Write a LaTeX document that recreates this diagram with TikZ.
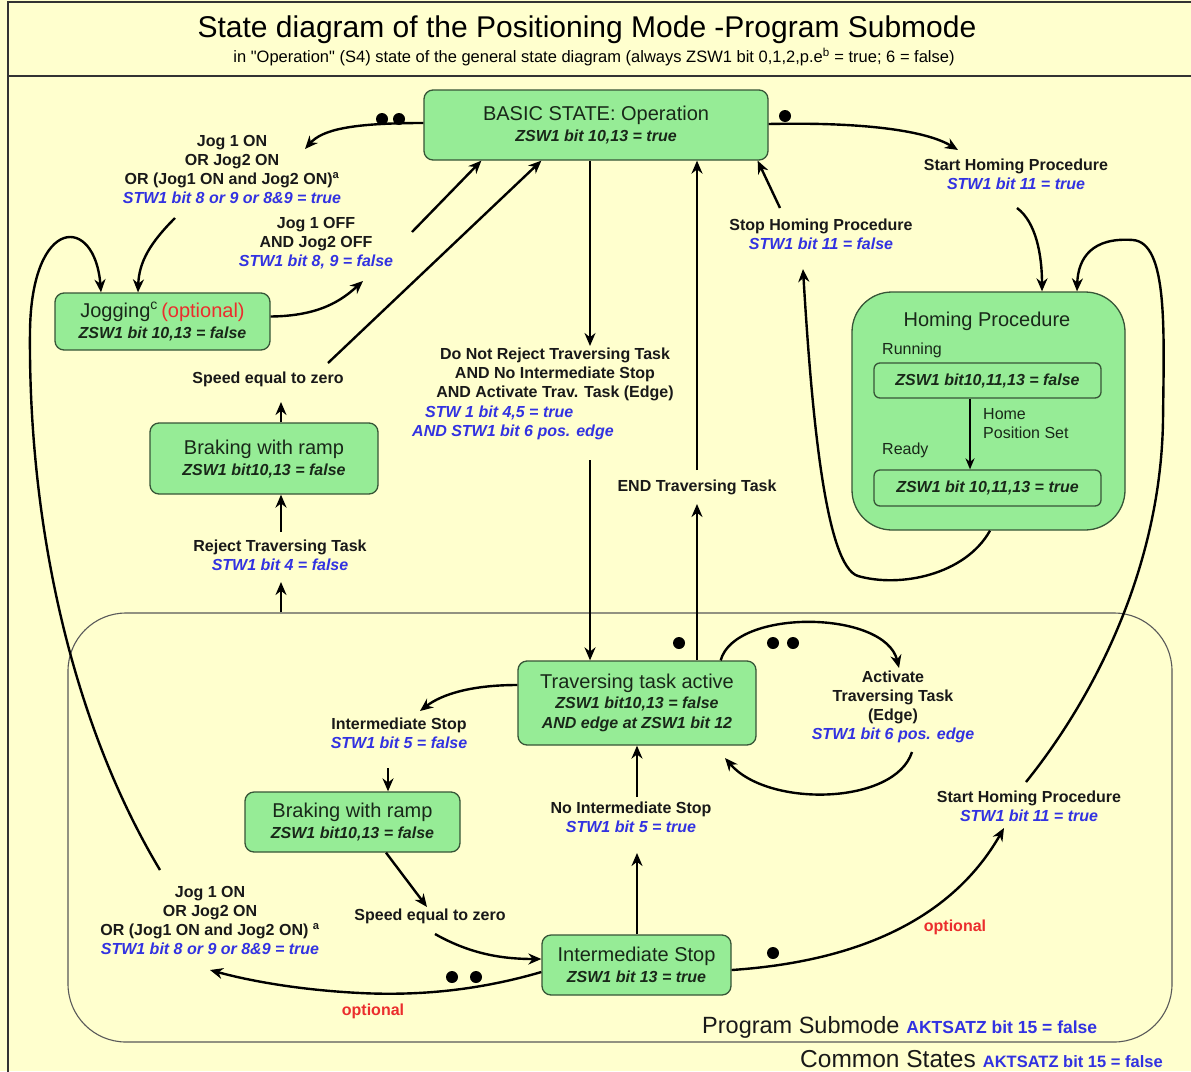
\documentclass[tikz,border=0pt]{standalone}
\usepackage{fontspec}
\setmainfont{Liberation Sans}
\usetikzlibrary{arrows.meta}
\definecolor{bgy}{RGB}{255,255,206}
\definecolor{nodeg}{RGB}{150,236,150}
\definecolor{bordc}{RGB}{55,85,55}
\definecolor{txtb}{RGB}{50,50,225}
\definecolor{txtr}{RGB}{235,45,45}
\definecolor{darkt}{RGB}{25,40,25}
\newcommand\bluet[1]{{\color{txtb}\bfseries\itshape #1}}
\newcommand\nsubt[1]{{\bfseries\itshape #1}}
\newcommand\ntitle[1]{{\fontsize{20}{21}\selectfont #1}}
\newcommand\strq{\XeTeXglyph\XeTeXcharglyph"22\relax}
\begin{document}
\begin{tikzpicture}[x=1pt,y=-1pt,
  state/.style={draw=bordc, fill=nodeg, line width=1.3pt, rounded corners=9pt, align=center, inner sep=0pt, text=darkt, font=\fontsize{16}{21}\selectfont},
  lbl/.style={align=center, inner sep=0pt, font=\fontsize{16}{19}\selectfont\bfseries, text=black!90},
  conn/.style={line width=2.4pt, -{Stealth[length=13pt,width=11pt]}},
  dotm/.style={circle, fill=black, inner sep=0pt, minimum size=12pt}]
\useasboundingbox (0,0) rectangle (1191,1071);
\fill[bgy] (0,0) rectangle (1191,1071);
\begin{scope}
\clip (0,0) rectangle (1191,1071);
\draw[line width=1.5pt, black!80] (8,2) rectangle (1200,1080);
\draw[line width=2pt, black!80] (8,76) -- (1191,76);
\end{scope}
% title
\node[inner sep=0pt, font=\fontsize{30}{32}\selectfont] (title) at (587,30) {State diagram of the Positioning Mode -Program Submode};
\node[inner sep=0pt, font=\fontsize{16.5}{18}\selectfont] (subt) at (594,57) {in \strq Operation\strq{} (S4) state of the general state diagram (always ZSW1 bit 0,1,2,p.e\textsuperscript{b} = true; 6 = false)};
% program submode frame
\node[draw=black!65, line width=1.1pt, rounded corners=58pt, minimum width=1104pt, minimum height=429pt, inner sep=0pt] (progframe) at (620,827.5) {};
% states
\node[state, minimum width=344pt, minimum height=70pt] (basic) at (596,125) {\ntitle{BASIC STATE: Operation}\\\nsubt{ZSW1 bit 10,13 = true}};
\node[state, minimum width=215pt, minimum height=57pt] (jog) at (162.5,321.5) {\ntitle{Jogging\textsuperscript{c}\,{\color{txtr}(optional)}}\\\nsubt{ZSW1 bit 10,13 = false}};
\node[state, minimum width=228pt, minimum height=71pt] (brk1) at (264,458.5) {\ntitle{Braking with ramp}\\\nsubt{ZSW1 bit10,13 = false}};
\node[state, rounded corners=40pt, minimum width=273pt, minimum height=238pt] (homing) at (988.5,411) {};
\node[inner sep=0pt, text=darkt, font=\fontsize{20}{21}\selectfont] (homingt) at (987,321) {Homing Procedure};
\node[state, rounded corners=6pt, minimum width=227pt, minimum height=35pt] (hrun) at (987.5,380.5) {\nsubt{ZSW1 bit10,11,13 = false}};
\node[state, rounded corners=6pt, minimum width=227pt, minimum height=36pt] (hready) at (987.5,488) {\nsubt{ZSW1 bit 10,11,13 = true}};
\node[state, minimum width=238pt, minimum height=84pt, font=\fontsize{16}{20}\selectfont] (trav) at (637,703) {\ntitle{Traversing task active}\\\nsubt{ZSW1 bit10,13 = false}\\\nsubt{AND edge at ZSW1 bit 12}};
\node[state, minimum width=215pt, minimum height=60pt] (brk2) at (352.5,822) {\ntitle{Braking with ramp}\\\nsubt{ZSW1 bit10,13 = false}};
\node[state, minimum width=189pt, minimum height=60pt] (istop) at (636.5,965) {\ntitle{Intermediate Stop}\\\nsubt{ZSW1 bit 13 = true}};
% homing inner labels
\node[inner sep=0pt, anchor=west, text=darkt, font=\fontsize{16}{19}\selectfont] (hrunl) at (882,350) {Running};
\node[inner sep=0pt, anchor=west, text=darkt, font=\fontsize{16}{19}\selectfont] (hreadyl) at (882,450) {Ready};
\node[inner sep=0pt, anchor=west, align=left, text=darkt, font=\fontsize{16}{19}\selectfont] (hsetl) at (983,424) {Home\\Position Set};
\draw[line width=2pt, -{Stealth[length=11pt,width=9pt]}] ([xshift=-17.5pt]hrun.south) -- ([xshift=-17.5pt]hready.north);
% labels
\node[lbl] (ljoga) at (232,169.5) {Jog 1 ON\\OR Jog2 ON\\OR (Jog1 ON and Jog2 ON)\textsuperscript{a}\\\bluet{STW1 bit 8 or 9 or 8\&9 = true}};
\node[lbl] (ljogoff) at (316,243.5) {Jog 1 OFF\\AND Jog2 OFF\\\bluet{STW1 bit 8, 9 = false}};
\node[lbl] (lsp1) at (268,379) {Speed equal to zero};
\node[lbl] (lrej) at (280,555) {Reject Traversing Task\\\bluet{STW1 bit 4 = false}};
\node[lbl] (ldonot) at (555,374) {Do Not Reject Traversing Task\\AND No Intermediate Stop\\AND Activate Trav. Task (Edge)};
\node[lbl, anchor=west, align=left] (ldonotb) at (412,422.5) {\hspace*{13pt}\bluet{STW 1 bit 4,5 = true}\\\bluet{AND STW1 bit 6 pos. edge}};
\node[lbl] (lend) at (697,487) {END Traversing Task};
\node[lbl] (lstarth) at (1016,174.5) {Start Homing Procedure\\\bluet{STW1 bit 11 = true}};
\node[lbl] (lstoph) at (821,234.5) {Stop Homing Procedure\\\bluet{STW1 bit 11 = false}};
\node[lbl] (listop) at (399,733.5) {Intermediate Stop\\\bluet{STW1 bit 5 = false}};
\node[lbl] (lact) at (893,706.5) {Activate\\Traversing Task\\(Edge)\\\bluet{STW1 bit 6 pos. edge}};
\node[lbl] (lnoist) at (631,817.5) {No Intermediate Stop\\\bluet{STW1 bit 5 = true}};
\node[lbl] (lstarth2) at (1029,806.5) {Start Homing Procedure\\\bluet{STW1 bit 11 = true}};
\node[lbl] (ljogb) at (210,920.5) {Jog 1 ON\\OR Jog2 ON\\OR (Jog1 ON and Jog2 ON) \textsuperscript{a}\\\bluet{STW1 bit 8 or 9 or 8\&9 = true}};
\node[lbl] (lsp2) at (430,916) {Speed equal to zero};
\node[lbl, text=txtr] (lopt1) at (955,927) {optional};
\node[lbl, text=txtr] (lopt2) at (373,1011) {optional};
\node[inner sep=0pt, anchor=west, text=black!90] (lprog) at (702,1027) {{\fontsize{23.5}{25}\selectfont Program Submode}\hspace{7pt}{\color{txtb}\bfseries\fontsize{17.5}{19}\selectfont AKTSATZ bit 15 = false}};
\node[inner sep=0pt, anchor=west, text=black!90] (lcommon) at (800,1059) {{\fontsize{24.5}{26}\selectfont Common States}\hspace{7pt}{\color{txtb}\bfseries\fontsize{16.5}{19}\selectfont AKTSATZ bit 15 = false}};
% coordinates
\coordinate (j1end) at (305,149);
\coordinate (j2s) at (175,218);
\coordinate (jbs) at (160,870);
\coordinate (joffend) at (363,281);
\coordinate (joffs) at (412,232);
\coordinate (sp1s) at (328,363);
\coordinate (sp1b) at (281,402);
\coordinate (rejt) at (281,532);
\coordinate (rejb) at (281,582);
\coordinate (dnr) at (590,346);
\coordinate (dnrb) at (590,460);
\coordinate (endb) at (697,504);
\coordinate (endt) at (697,470);
\coordinate (stoph) at (803,269);
\coordinate (stopt) at (780,208);
\coordinate (starth) at (958,150);
\coordinate (starthb) at (1017,208);
\coordinate (sh2) at (1026,782);
\coordinate (ist) at (420,711);
\coordinate (isb) at (388,768);
\coordinate (sp2) at (427,907);
\coordinate (sp2b) at (435,934);
\coordinate (jbe) at (210,970);
\coordinate (nisb) at (637,853);
\coordinate (nist) at (637,797);
\coordinate (acte) at (899,668);
\coordinate (acts) at (912,752);
\coordinate (trloop) at (725,758);
\coordinate (sh2e) at (1004,828);
% connectors
\draw[conn] ([yshift=2pt]basic.west) .. controls (350,123) and (322,130) .. (j1end);
\node[dotm] (d1) at (382,119) {};
\node[dotm] (d2) at (399,119) {};
\draw[conn] (j2s) .. controls (150,243) and (139,262) .. ([xshift=-24.5pt]jog.north);
\draw[conn] (jbs) .. controls (70,720) and (28,520) .. (30,330) .. controls (32,215) and (95,215) .. ([xshift=-61.5pt]jog.north);
\draw[conn] ([yshift=5pt]jog.east) .. controls (320,316) and (342,300) .. (joffend);
\draw[conn] (joffs) -- ([xshift=58pt]basic.south west);
\draw[conn] (sp1s) -- ([xshift=118pt]basic.south west);
\draw[conn] ([xshift=17pt]brk1.north) -- (sp1b);
\draw[conn] (rejt) -- ([xshift=17pt]brk1.south);
\draw[conn] (progframe.north -| rejb) -- (rejb);
\draw[conn] (basic.south -| dnr) -- (dnr);
\draw[conn] (dnrb) -- (trav.north -| dnrb);
\draw[conn] (trav.north -| endb) -- (endb);
\draw[conn] (endt) -- (basic.south -| endt);
\node[dotm] (d3) at (679,643) {};
\draw[conn] ([xshift=1.5pt]homing.south) .. controls (965,575) and (900,588) .. (858,576) .. controls (826,566) and (812,420) .. (stoph);
\draw[conn] (stopt) -- ([xshift=-11pt]basic.south east);
\draw[conn] ([yshift=1pt]basic.east) .. controls (860,122) and (925,130) .. (starth);
\node[dotm] (d4) at (785,116) {};
\draw[conn] (starthb) .. controls (1036,222) and (1042,255) .. ([xshift=53.5pt]homing.north);
\draw[conn] (sh2) .. controls (1100,690) and (1161,560) .. (1163,420) .. controls (1164,330) and (1168,243) .. (1133,240) .. controls (1092,237) and (1078,258) .. ([xshift=88.5pt]homing.north);
\draw[conn] ([yshift=18pt]trav.west) .. controls (472,685) and (442,694) .. (ist);
\draw[conn] (isb) -- (brk2.north -| isb);
\draw[conn] ([xshift=33.5pt]brk2.south) -- (sp2);
\draw[conn] (sp2b) .. controls (472,955) and (505,959) .. ([yshift=6pt]istop.west);
\draw[conn] ([yshift=-7pt]istop.west) .. controls (480,990) and (420,996) .. (360,993) .. controls (300,990) and (250,981) .. (jbe);
\node[dotm] (d5) at (452,977) {};
\node[dotm] (d6) at (476,977) {};
\draw[conn] (istop.north -| nisb) -- (nisb);
\draw[conn] (nist) -- (trav.south -| nist);
\draw[conn] ([xshift=-36pt]trav.north east) .. controls (735,608) and (885,610) .. (acte);
\node[dotm] (d7) at (773,643) {};
\node[dotm] (d8) at (793,643) {};
\draw[conn] (acts) .. controls (895,805) and (768,808) .. (trloop);
\draw[conn] ([yshift=-5pt]istop.east) .. controls (880,960) and (960,905) .. (sh2e);
\node[dotm] (d9) at (773,953) {};
\end{tikzpicture}
\end{document}
